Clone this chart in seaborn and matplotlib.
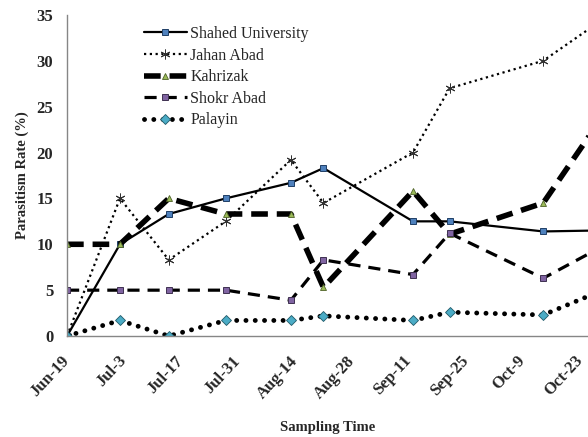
import numpy as np
import pandas as pd
import matplotlib
matplotlib.use("Agg")
import matplotlib.pyplot as plt
import seaborn as sns

# sampling dates (year is arbitrary, only month-day is shown)
dates = pd.to_datetime(["2009-06-19", "2009-07-02", "2009-07-14", "2009-07-28", "2009-08-13",
                        "2009-08-21", "2009-09-12", "2009-09-21", "2009-10-14", "2009-10-27"])

shahed = [0, 10, 13.3, 15, 16.7, 18.3, 12.5, 12.5, 11.4, 11.5]
jahan = [0, 15, 8.3, 12.5, 19.2, 14.5, 20, 27, 30, 34]
kahrizak = [10, 10, 15, 13.3, 13.3, 5.3, 15.8, 11.1, 14.5, 22.9]
shokr = [5, 5, 5, 5, 3.9, 8.3, 6.7, 11.2, 6.3, 9.4]
palayin = [0, 1.7, 0, 1.7, 1.7, 2.2, 1.7, 2.6, 2.3, 4.7]

tick_dates = pd.date_range("2009-06-19", periods=10, freq="14D")
tick_labels = ["Jun-19", "Jul-3", "Jul-17", "Jul-31", "Aug-14",
               "Aug-28", "Sep-11", "Sep-25", "Oct-9", "Oct-23"]

sns.set_style("white")
plt.rcParams['font.family'] = ['Liberation Serif', 'DejaVu Serif']

fig = plt.figure(figsize=(5.88, 4.37), dpi=100)
ax = fig.add_axes([0.114, 0.231, 0.886, 0.735])

sns.lineplot(x=dates, y=shahed, ax=ax, color='black', lw=1.6, linestyle='-',
             marker='s', markersize=5, markerfacecolor='#4f81bd', markeredgecolor='#1f3f66',
             markeredgewidth=0.7, label='Shahed University')
sns.lineplot(x=dates, y=jahan, ax=ax, color='black', lw=1.6, linestyle=(0, (1, 1.6)),
             marker=(6, 2, 0), markersize=7, markeredgecolor='#333333', markeredgewidth=0.7,
             label='Jahan Abad')
sns.lineplot(x=dates, y=kahrizak, ax=ax, color='black', lw=4, linestyle=(0, (3.0, 1.6)),
             marker='^', markersize=5, markerfacecolor='#9bbb59', markeredgecolor='#4f6228',
             markeredgewidth=0.6, label='Kahrizak')
sns.lineplot(x=dates, y=shokr, ax=ax, color='black', lw=2.3, linestyle=(0, (3.8, 2.5)),
             marker='s', markersize=5, markerfacecolor='#8064a2', markeredgecolor='#3f3151',
             markeredgewidth=0.7, label='Shokr Abad')
sns.lineplot(x=dates, y=palayin, ax=ax, color='black', lw=3.5, linestyle=(0, (0.01, 1.9)),
             dash_capstyle='round', marker='D', markersize=5, markerfacecolor='#4bacc6',
             markeredgecolor='#215968', markeredgewidth=0.6, label='Palayin')

ax.set_xlim(pd.Timestamp("2009-06-19"), pd.Timestamp("2009-06-19") + pd.Timedelta(days=128))
ax.set_ylim(0, 35)
ax.set_yticks(range(0, 36, 5))
ax.set_xticks(tick_dates)
ax.set_xticklabels(tick_labels, rotation=47, ha='right', va='center', rotation_mode='anchor')

for s in ['top', 'right']:
    ax.spines[s].set_visible(False)
for s in ['left', 'bottom']:
    ax.spines[s].set_color('#868686')
    ax.spines[s].set_linewidth(1)
ax.tick_params(axis='both', direction='out', length=4, width=1, color='#a0a0a0',
               labelsize=12, pad=6)
ax.tick_params(axis='x', pad=12)
for lab in ax.get_xticklabels() + ax.get_yticklabels():
    lab.set_fontweight('bold')

ax.set_xlabel('Sampling Time', fontsize=10.5, fontweight='bold', labelpad=14)
ax.set_ylabel('Parasitism Rate (%)', fontsize=10.5, fontweight='bold', labelpad=5)

ax.legend(loc='upper left', bbox_to_anchor=(0.12, 1.01), frameon=False, fontsize=11.5,
          handlelength=2.7, handletextpad=0.2, labelspacing=0.35)

fig.savefig('out.png', dpi=100)
